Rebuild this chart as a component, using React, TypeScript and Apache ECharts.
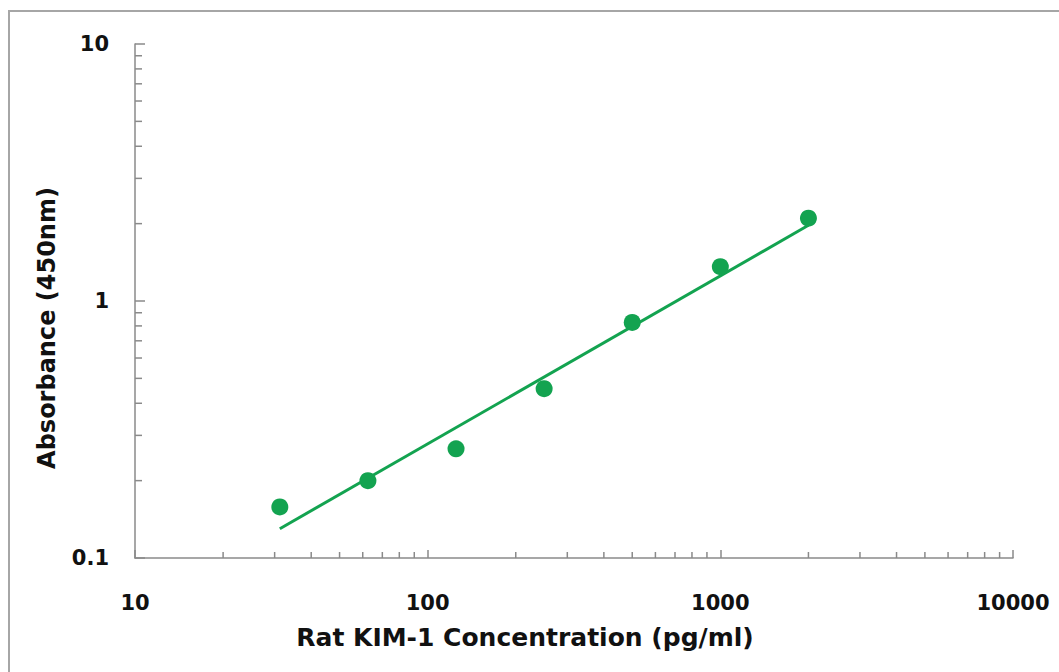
import React, { useEffect, useRef } from "react";
import * as echarts from "echarts";

const concentrations = [31.25, 62.5, 125, 250, 500, 1000, 2000];
const absorbance = [0.158, 0.2, 0.266, 0.456, 0.825, 1.36, 2.1];
const trendX = [31.25, 2000];
const trendY = [0.13, 1.97];
const xMinorTicks = [20, 30, 40, 50, 60, 70, 80, 90, 200, 300, 400, 500, 600, 700, 800, 900, 2000, 3000, 4000, 5000, 6000, 7000, 8000, 9000];
const yMinorTicks = [0.2, 0.3, 0.4, 0.5, 0.6, 0.7, 0.8, 0.9, 2, 3, 4, 5, 6, 7, 8, 9];
const xTitle = "Rat KIM-1 Concentration (pg/ml)";
const yTitle = "Absorbance (450nm)";

const GREEN = "#13a350";
const AXIS = "#8a8a8a";
const FONT = "DejaVu Sans";

export default function App() {
  const ref = useRef<HTMLDivElement>(null);
  useEffect(() => {
    if (!ref.current) return;
    const chart = echarts.init(ref.current, null, { renderer: "svg" });
    const labelStyle = { color: "#111", fontFamily: FONT, fontWeight: "bold", fontSize: 21 };
    chart.setOption({
      animation: false,
      backgroundColor: "#fff",
      grid: { left: 135, top: 44, right: 46, bottom: 114 },
      xAxis: {
        type: "log",
        min: 10,
        max: 10000,
        logBase: 10,
        axisLine: { lineStyle: { color: AXIS, width: 1.5 } },
        axisTick: { inside: true, length: 8, lineStyle: { color: AXIS, width: 1.5 } },
        axisLabel: { ...labelStyle, margin: 34, formatter: (v: number) => String(v) },
        splitLine: { show: false },
      },
      yAxis: {
        type: "log",
        min: 0.1,
        max: 10,
        logBase: 10,
        axisLine: { lineStyle: { color: AXIS, width: 1.5 } },
        axisTick: { inside: true, length: 10, lineStyle: { color: AXIS, width: 1.5 } },
        axisLabel: { ...labelStyle, margin: 26, formatter: (v: number) => String(v) },
        splitLine: { show: false },
      },
      graphic: [
        {
          type: "polyline",
          shape: { points: [[9, 700], [9, 11], [1100, 11]] },
          style: { stroke: "#a6a6a6", lineWidth: 2, fill: "none" },
          z: 0,
        },
        {
          type: "text",
          x: 525,
          y: 637,
          style: { text: xTitle, fontFamily: FONT, fontWeight: "bold", fontSize: 25, fill: "#111", align: "center", verticalAlign: "middle" },
        },
        {
          type: "text",
          x: 47,
          y: 328,
          rotation: Math.PI / 2,
          style: { text: yTitle, fontFamily: FONT, fontWeight: "bold", fontSize: 24, fill: "#111", align: "center", verticalAlign: "middle" },
        },
      ],
      series: [
        {
          type: "custom",
          silent: true,
          data: xMinorTicks.map((v) => [v, 0.1]),
          encode: { x: 0, y: 1 },
          renderItem: (params: any, api: any) => {
            const p = api.coord([api.value(0), api.value(1)]);
            return { type: "line", shape: { x1: p[0], y1: p[1], x2: p[0], y2: p[1] - 6 }, style: { stroke: AXIS, lineWidth: 1.5 } };
          },
        },
        {
          type: "custom",
          silent: true,
          data: yMinorTicks.map((v) => [10, v]),
          encode: { x: 0, y: 1 },
          renderItem: (params: any, api: any) => {
            const p = api.coord([api.value(0), api.value(1)]);
            return { type: "line", shape: { x1: p[0], y1: p[1], x2: p[0] + 7, y2: p[1] }, style: { stroke: AXIS, lineWidth: 1.5 } };
          },
        },
        {
          type: "line",
          data: trendX.map((x, i) => [x, trendY[i]]),
          showSymbol: false,
          symbol: "none",
          lineStyle: { color: GREEN, width: 3 },
          z: 3,
        },
        {
          type: "scatter",
          data: concentrations.map((x, i) => [x, absorbance[i]]),
          symbolSize: 17,
          itemStyle: { color: GREEN, opacity: 1 },
          z: 4,
        },
      ],
    });
    return () => chart.dispose();
  }, []);
  return <div ref={ref} style={{ position: "absolute", left: 0, top: 0, width: 1059, height: 672, background: "#fff" }} />;
}
